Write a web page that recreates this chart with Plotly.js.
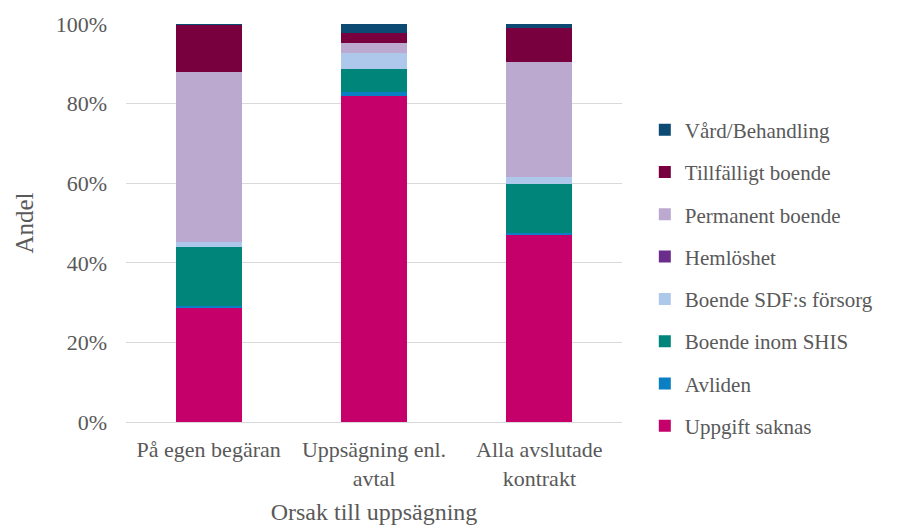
<!DOCTYPE html>
<html>
<head>
<meta charset="utf-8">
<script src="https://cdn.plot.ly/plotly-3.0.1.min.js"></script>
<style>
  html, body { margin: 0; padding: 0; background: #fff; }
  #chart { width: 911px; height: 526px; }
</style>
</head>
<body>
<div id="chart"></div>
<script>
// Reasons for contract termination (x categories)
const categories = ["På egen begäran", "Uppsägning enl.<br>avtal", "Alla avslutade<br>kontrakt"];

// Share (%) per outcome, listed bottom to top of the stack
const uppgiftSaknas   = [28.6, 81.9, 46.9];
const avliden         = [0.5, 0.9, 0.5];
const boendeShis      = [14.9, 5.8, 12.3];
const boendeSdf       = [1.2, 4.2, 1.9];
const hemloshet       = [0, 0, 0];
const permanentBoende = [42.8, 2.5, 28.9];
const tillfalligt     = [11.7, 2.4, 8.4];
const vardBehandling  = [0.3, 2.3, 1.1];

const seriesNames = ["Uppgift saknas", "Avliden", "Boende inom SHIS", "Boende SDF:s försorg",
                     "Hemlöshet", "Permanent boende", "Tillfälligt boende", "Vård/Behandling"];
const seriesValues = [uppgiftSaknas, avliden, boendeShis, boendeSdf,
                      hemloshet, permanentBoende, tillfalligt, vardBehandling];
const seriesColors = ["#c5006a", "#0a7fc4", "#00857a", "#adc8ea",
                      "#6b2d8c", "#bca9d0", "#78003f", "#0c4a73"];

const serif = "Liberation Serif";
const grey = "#595959";

const traces = seriesNames.map((name, i) => ({
  type: "bar",
  name: name,
  x: categories,
  y: seriesValues[i],
  marker: { color: seriesColors[i], line: { width: 0 } },
  legendgroup: "g" + i,
  legendrank: 100 - i,          // top of the stack listed first
  hoverinfo: "name+y"
}));

const layout = {
  width: 911,
  height: 526,
  barmode: "stack",
  bargap: 0.6,
  paper_bgcolor: "#fff",
  plot_bgcolor: "#fff",
  margin: { l: 126, r: 289, t: 24, b: 104 },
  font: { family: serif, size: 22, color: grey },
  xaxis: {
    tickfont: { size: 22, family: serif, color: grey },
    showline: true,
    linecolor: "#d9d9d9",
    linewidth: 1,
    ticks: "",
    ticklabelstandoff: 8,
    title: { text: "Orsak till uppsägning", font: { size: 24, family: serif, color: grey }, standoff: 13 }
  },
  yaxis: {
    range: [0, 100],
    tickvals: [0, 20, 40, 60, 80, 100],
    ticktext: ["0%", "20%", "40%", "60%", "80%", "100%"],
    tickfont: { size: 22, family: serif, color: grey },
    showgrid: true,
    gridcolor: "#d9d9d9",
    gridwidth: 1,
    zeroline: false,
    ticks: "",
    ticklabelstandoff: 18,
    title: { text: "Andel", font: { size: 25, family: serif, color: grey }, standoff: 14 }
  },
  legend: {
    x: 1.046,
    xanchor: "left",
    y: 0.785,
    yanchor: "top",
    traceorder: "grouped",
    tracegroupgap: 12,
    font: { size: 21, family: serif, color: grey },
    itemwidth: 30
  },
  showlegend: true
};

Plotly.newPlot("chart", traces, layout, { displayModeBar: false, staticPlot: true });
</script>
</body>
</html>
